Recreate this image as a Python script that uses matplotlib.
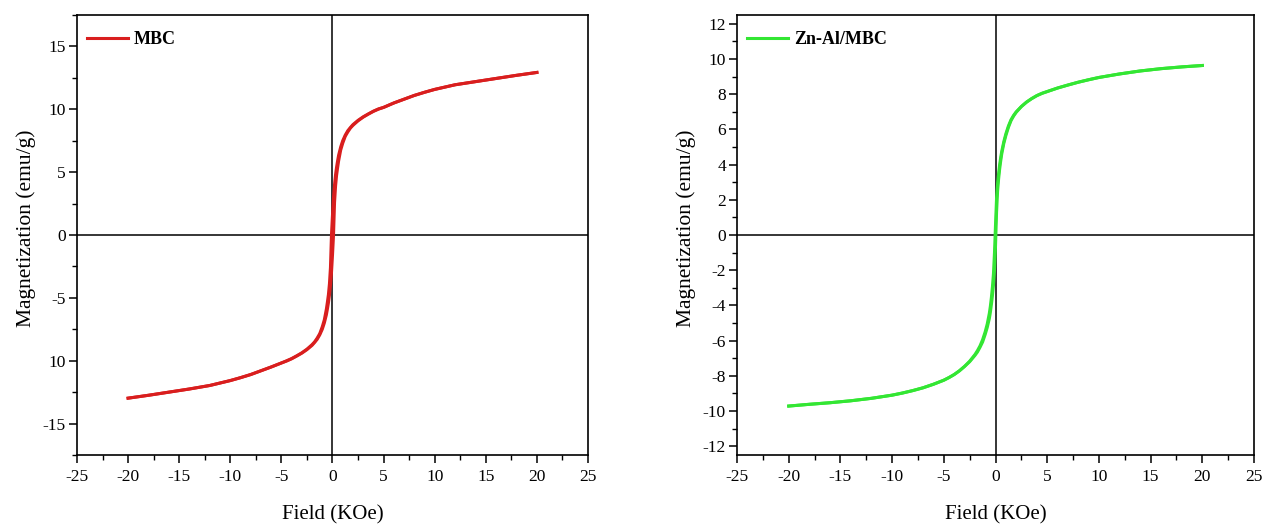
import matplotlib
matplotlib.use("Agg")
import matplotlib.pyplot as plt
from matplotlib.ticker import MultipleLocator, FixedLocator, FixedFormatter

plt.rcParams['font.family'] = ['Liberation Serif', 'DejaVu Serif']

# Field grid (kOe)
field = [-20, -18, -16, -14, -12, -10, -9, -8, -7, -6, -5, -4.5, -4, -3.5, -3, -2.5, -2,
         -1.75, -1.5, -1.25, -1, -0.8, -0.6, -0.5, -0.4, -0.3, -0.2, -0.1, 0,
         0.1, 0.2, 0.3, 0.4, 0.5, 0.6, 0.8, 1, 1.25, 1.5, 1.75, 2, 2.5, 3, 3.5, 4,
         4.5, 5, 6, 7, 8, 9, 10, 12, 14, 16, 18, 20]

# MBC: descending branch (+20 -> -20) and ascending branch (-20 -> +20)
mbc_desc = [-12.98, -12.75, -12.5, -12.25, -11.97, -11.58, -11.35, -11.1, -10.8, -10.5,
            -10.18, -10.01, -9.83, -9.61, -9.37, -9.08, -8.72, -8.5, -8.2, -7.85, -7.3,
            -6.75, -5.9, -5.35, -4.75, -3.9, -2.6, 0.0, 1.6,
            3.0, 4.0, 4.8, 5.4, 5.9, 6.35, 7.0, 7.5, 7.95, 8.3, 8.55, 8.78, 9.12, 9.4,
            9.63, 9.85, 10.03, 10.15, 10.5, 10.8, 11.1, 11.35, 11.58, 11.95, 12.2, 12.45,
            12.7, 12.93]
mbc_asc = [-12.98, -12.75, -12.5, -12.25, -11.97, -11.58, -11.35, -11.1, -10.8, -10.5,
           -10.18, -10.03, -9.85, -9.63, -9.4, -9.12, -8.78, -8.55, -8.3, -7.95, -7.5,
           -7.0, -6.35, -5.9, -5.4, -4.8, -4.0, -3.0, -1.6,
           0.0, 2.6, 3.9, 4.75, 5.35, 5.9, 6.75, 7.3, 7.85, 8.2, 8.5, 8.72, 9.08, 9.37,
           9.61, 9.83, 10.01, 10.15, 10.5, 10.8, 11.1, 11.35, 11.58, 11.95, 12.2, 12.45,
           12.7, 12.93]

# Zn-Al/MBC
znal_desc = [-9.72, -9.62, -9.53, -9.42, -9.28, -9.1, -8.98, -8.84, -8.68, -8.48,
             -8.25, -8.1, -7.93, -7.72, -7.47, -7.17, -6.8, -6.57, -6.3, -5.95, -5.5,
             -5.05, -4.45, -4.05, -3.55, -2.95, -2.2, -1.0, 0.6,
             2.1, 2.9, 3.5, 4.0, 4.4, 4.75, 5.3, 5.75, 6.2, 6.55, 6.8, 7.0, 7.3, 7.55,
             7.75, 7.92, 8.05, 8.15, 8.35, 8.52, 8.68, 8.82, 8.95, 9.15, 9.32, 9.45,
             9.55, 9.63]
znal_asc = [-9.72, -9.62, -9.53, -9.42, -9.28, -9.1, -8.98, -8.84, -8.68, -8.48,
            -8.25, -8.1, -7.93, -7.72, -7.47, -7.2, -6.85, -6.65, -6.38, -6.08, -5.65,
            -5.25, -4.75, -4.4, -3.95, -3.45, -2.85, -2.0, -0.6,
            1.3, 2.5, 3.2, 3.75, 4.2, 4.6, 5.2, 5.65, 6.12, 6.5, 6.76, 6.97, 7.3, 7.55,
            7.75, 7.92, 8.05, 8.15, 8.35, 8.52, 8.68, 8.82, 8.95, 9.15, 9.32, 9.45,
            9.55, 9.63]

xticks = [-25, -20, -15, -10, -5, 0, 5, 10, 15, 20, 25]
xticklabels = ['-25', '-20', '-15', '-10', '-5', '0', '5', '10', '15', '20', '25']
yticks_left = [-15, -10, -5, 0, 5, 10, 15]
yticklabels_left = ['-15', '10', '-5', '0', '5', '10', '15']
yticks_right = [-12, -10, -8, -6, -4, -2, 0, 2, 4, 6, 8, 10, 12]
yticklabels_right = ['-12', '-10', '-8', '-6', '-4', '-2', '0', '2', '4', '6', '8', '10', '12']

fig = plt.figure(figsize=(12.64, 5.24), dpi=100)
ax1 = fig.add_axes([0.0609, 0.1317, 0.4043, 0.8397])
ax2 = fig.add_axes([0.5831, 0.1317, 0.4090, 0.8397])

def style(ax, yticks, ylabels, ylim, yminor):
    ax.set_xlim(-25, 25)
    ax.set_ylim(*ylim)
    ax.xaxis.set_major_locator(FixedLocator(xticks))
    ax.xaxis.set_major_formatter(FixedFormatter(xticklabels))
    ax.xaxis.set_minor_locator(MultipleLocator(2.5))
    ax.yaxis.set_major_locator(FixedLocator(yticks))
    ax.yaxis.set_major_formatter(FixedFormatter(ylabels))
    ax.yaxis.set_minor_locator(MultipleLocator(yminor))
    ax.tick_params(axis='both', which='major', direction='out', length=6, width=1.1,
                   labelsize=12.5, top=False, right=False)
    ax.tick_params(axis='both', which='minor', direction='out', length=3.5, width=1.0,
                   top=False, right=False)
    ax.tick_params(axis='x', pad=4)
    ax.tick_params(axis='y', pad=2)
    for s in ax.spines.values():
        s.set_linewidth(1.2)
    ax.axhline(0, color='black', lw=1.1, zorder=1)
    ax.axvline(0, color='black', lw=1.1, zorder=1)
    ax.set_xlabel('Field (KOe)', fontsize=15, labelpad=15)
    ax.set_ylabel('Magnetization (emu/g)', fontsize=15.5, labelpad=5)
    ax.yaxis.label.set_y(0.515)

style(ax1, yticks_left, yticklabels_left, (-17.5, 17.5), 2.5)
style(ax2, yticks_right, yticklabels_right, (-12.5, 12.5), 1)

ax1.plot(field, mbc_desc, color='#d91e1e', lw=2.2, label='MBC', zorder=3)
ax1.plot(field, mbc_asc, color='#d91e1e', lw=2.2, zorder=3)
ax2.plot(field, znal_desc, color='#33e633', lw=2.2, label='Zn-Al/MBC', zorder=3)
ax2.plot(field, znal_asc, color='#33e633', lw=2.2, zorder=3)

for ax in (ax1, ax2):
    ax.legend(loc='upper left', bbox_to_anchor=(0.019, 0.963), frameon=False,
              borderpad=0, borderaxespad=0, handlelength=2.3, handletextpad=0.3,
              prop={'family': 'Liberation Serif', 'weight': 'bold', 'size': 13})

fig.savefig('out.png', dpi=100)
